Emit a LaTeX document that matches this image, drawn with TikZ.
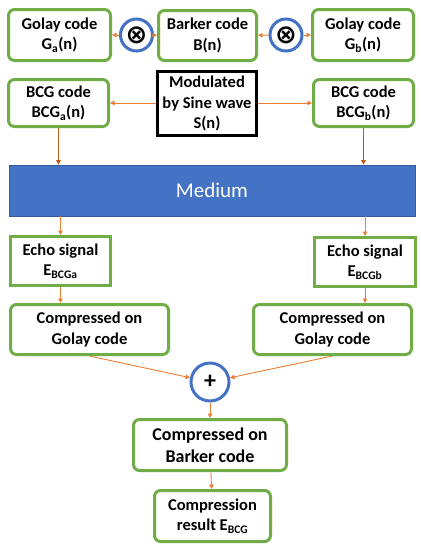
\documentclass[tikz,border=0pt]{standalone}
\usepackage{fontspec}
\setmainfont{Carlito}
\newfontfamily\dejavu{DejaVu Sans}
\usetikzlibrary{arrows.meta}
\definecolor{gr}{HTML}{70AD47}
\definecolor{bl}{HTML}{4472C4}
\definecolor{org}{HTML}{ED7D31}
\definecolor{brn}{HTML}{C55A11}
\tikzset{
  gbox/.style={draw=gr, line width=3pt, rounded corners=6pt, fill=white, align=center, inner sep=0pt, font=\bfseries\fontsize{16.5}{20.5}\selectfont},
  sbox/.style={gbox, rounded corners=0pt},
  bbox/.style={draw=black, line width=3pt, fill=white, align=center, inner sep=0pt, font=\bfseries\fontsize{16.5}{20.5}\selectfont},
  opc/.style={circle, draw=bl, line width=3pt, fill=white, inner sep=0pt},
  arr/.style={draw=org, line width=0.9pt, -{Triangle[length=4.5pt,width=4.5pt]}},
  barr/.style={draw=brn, line width=1.8pt, -{Triangle[length=4.5pt,width=4.5pt]}},
}
\begin{document}
\begin{tikzpicture}[x=1pt,y=-1pt]
\useasboundingbox (0,0) rectangle (421,550);
\node[gbox, minimum width=102pt, minimum height=51pt] (ga) at (59.5,35) {Golay code\\G\textsubscript{a}(n)};
\node[gbox, minimum width=98pt, minimum height=50pt] (bk) at (207.5,35.5) {Barker code\\B(n)};
\node[gbox, minimum width=101pt, minimum height=51pt] (gb) at (363,35) {Golay code\\G\textsubscript{b}(n)};
\node[opc, minimum size=32pt, font=\dejavu\bfseries\fontsize{26}{26}\selectfont] (c1) at (136.5,35) {⊗};
\node[opc, minimum size=32pt, font=\dejavu\bfseries\fontsize{26}{26}\selectfont] (c2) at (286,35) {⊗};
\node[gbox, minimum width=100pt, minimum height=47pt] (bcga) at (58.5,103) {BCG code\\BCG\textsubscript{a}(n)};
\node[bbox, minimum width=99pt, minimum height=64pt] (mod) at (207,103.5) {Modulated\\by Sine wave\\S(n)};
\node[gbox, minimum width=100pt, minimum height=47pt] (bcgb) at (363.5,103) {BCG code\\BCG\textsubscript{b}(n)};
\node[draw=bl!80!black, line width=0.6pt, fill=bl, minimum width=406pt, minimum height=51pt, text=white, font=\fontsize{21}{24}\selectfont] (med) at (212,190.5) {Medium};
\node[sbox, minimum width=100pt, minimum height=49pt] (ea) at (60.5,261) {Echo signal\\E\textsubscript{BCGa}};
\node[sbox, minimum width=101pt, minimum height=49pt] (eb) at (365,262) {Echo signal\\E\textsubscript{BCGb}};
\node[gbox, minimum width=158pt, minimum height=50pt] (ca) at (89.5,329.5) {Compressed on\\Golay code};
\node[gbox, minimum width=158pt, minimum height=50pt] (cb) at (332.5,329.5) {Compressed on\\Golay code};
\node[opc, minimum size=38pt, font=\bfseries\fontsize{24}{24}\selectfont] (pl) at (210,382) {+};
\node[gbox, minimum width=153pt, minimum height=51pt, font=\bfseries\fontsize{18}{22}\selectfont] (bc) at (210,445) {Compressed on\\Barker code};
\node[gbox, minimum width=116pt, minimum height=51pt] (res) at (212.5,516) {Compression\\result E\textsubscript{BCG}};
\draw[arr] (c1) -- (ga);
\draw[arr] (c1) -- (bk);
\draw[arr] (c2) -- (bk);
\draw[arr] (c2) -- (gb);
\draw[arr] (mod.west |- bcga) -- (bcga);
\draw[arr] (mod.east |- bcgb) -- (bcgb);
\draw[barr] (bcga.south) -- (bcga.south |- med.north);
\draw[barr] (bcgb.south) -- (bcgb.south |- med.north);
\draw[arr] (med.south -| ea.north) -- (ea.north);
\draw[arr] (med.south -| eb.north) -- (eb.north);
\draw[arr] (ea.south) -- (ea.south |- ca.north);
\draw[arr] (eb.south) -- (eb.south |- cb.north);
\draw[arr] (ca.south) -- (pl);
\draw[arr] (cb.south) -- (pl);
\draw[arr] (pl) -- (bc);
\draw[arr] (bc) -- (res);
\end{tikzpicture}
\end{document}
